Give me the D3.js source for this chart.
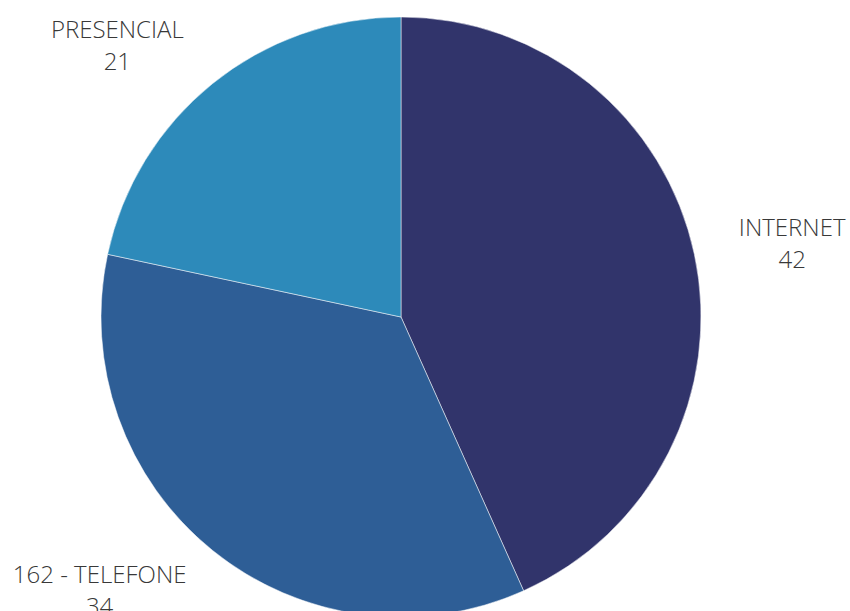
<!DOCTYPE html>
<html><head><meta charset="utf-8">
<script src="https://cdn.jsdelivr.net/npm/d3@7"></script>
<style>html,body{margin:0;padding:0;background:#fff;overflow:hidden}</style>
</head><body>
<svg id="c" width="850" height="611"></svg>
<script>
const categories = ["INTERNET", "162 - TELEFONE", "PRESENCIAL"];
const values = [42, 34, 21];
const colors = ["#31346b", "#2e5e96", "#2d8aba"];

const svg = d3.select("#c");
const cx = 401, cy = 317, R = 300;
const g = svg.append("g").attr("transform", `translate(${cx},${cy})`);
const data = categories.map((c, i) => ({cat: c, value: values[i], color: colors[i]}));
const pie = d3.pie().sort(null).value(d => d.value);
const arcs = pie(data);
const arc = d3.arc().innerRadius(0).outerRadius(R);
g.selectAll("path").data(arcs).enter().append("path")
  .attr("d", arc).attr("fill", d => d.data.color)
  .attr("stroke", "#fff").attr("stroke-width", 0.5);

// label placement: on a circle outside the pie, kept inside the chart vertically
const LR = 400;
const labelPos = d => {
  const a = (d.startAngle + d.endAngle) / 2;
  let y = -LR * Math.cos(a);
  y = Math.max(-282, Math.min(263, y));
  const side = Math.sin(a) >= 0 ? 1 : -1;
  const x = side * Math.sqrt(Math.max(0, LR * LR - y * y));
  return [x, y];
};
const lab = g.selectAll("text.lab").data(arcs).enter().append("text")
  .attr("class", "lab")
  .attr("text-anchor", "middle")
  .attr("font-family", "'Open Sans', sans-serif")
  .attr("font-weight", 300)
  .attr("font-size", 24)
  .attr("fill", "#383838");
lab.each(function(d) {
  const [x, y] = labelPos(d);
  const t = d3.select(this);
  t.append("tspan").attr("x", x).attr("y", y + 3).text(d.data.cat);
  t.append("tspan").attr("x", x).attr("y", y + 35).text(d.data.value);
});
</script>
</body></html>
